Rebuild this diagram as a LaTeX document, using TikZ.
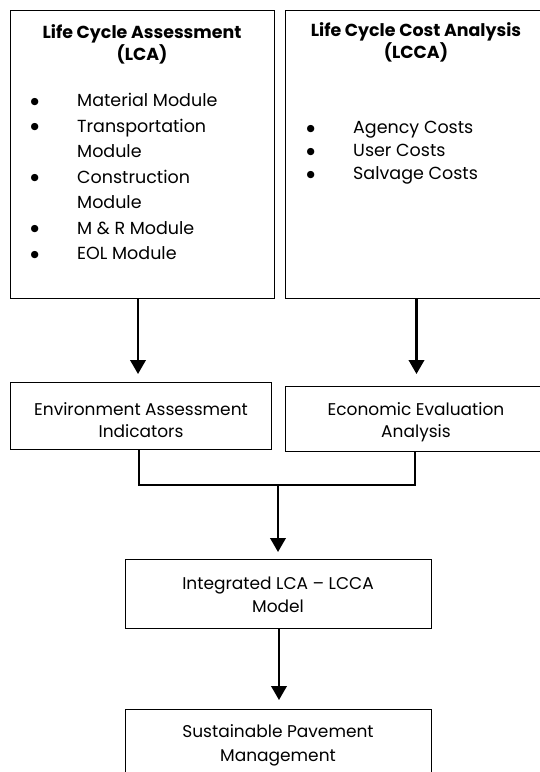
\documentclass[tikz,border=0pt]{standalone}
\usepackage{fontspec}
\setmainfont{Poppins}
\newfontfamily\bulletfont{DejaVu Sans}
\newcommand{\mybul}{\makebox[47pt][l]{\hspace*{0.5pt}\raisebox{2.5pt}{\bulletfont\fontsize{9.5}{10}\selectfont ●}}}
\usetikzlibrary{arrows.meta}
\begin{document}
\begin{tikzpicture}[x=1pt,y=-1pt,
  box/.style={draw=black,line width=1pt,inner sep=0pt},
  txt/.style={inner sep=0pt,align=center,font=\fontsize{17}{21.5}\selectfont},
  title/.style={inner sep=0pt,align=center,font=\fontsize{17.4}{22}\selectfont\bfseries},
  list/.style={inner sep=0pt,align=left,anchor=base west},
  arr/.style={line width=2.2pt,-{Triangle[width=15.5pt,length=14pt]}},
  link/.style={line width=1.8pt}]
\useasboundingbox (0,0) rectangle (540,772);
\path[fill=white] (0,0) rectangle (540,772);
% boxes
\node[box,minimum width=264,minimum height=288] (lca) at (142,154) {};
\node[box,minimum width=257,minimum height=288] (lcca) at (413.5,154) {};
\node[box,minimum width=261,minimum height=67] (env) at (140.5,415.5) {};
\node[box,minimum width=257,minimum height=65] (econ) at (413.5,418.5) {};
\node[box,minimum width=306,minimum height=69] (integ) at (278,593.5) {};
\node[box,minimum width=306,minimum height=91] (sust) at (278,754.5) {};
% titles
\node[title] (lcatitle) at (142,44) {Life Cycle Assessment\\(LCA)};
\node[title] (lccatitle) at (416,42) {Life Cycle Cost Analysis\\(LCCA)};
% lists (base anchor = baseline of last line)
\node[list,font=\fontsize{17.5}{25.5}\selectfont] (lcalist) at (30,259.5) {%
\mybul Material Module\\
\mybul Transportation\\
\hspace*{47pt}Module\\
\mybul Construction\\
\hspace*{47pt}Module\\
\mybul M \& R Module\\
\mybul EOL Module};
\node[list,font=\fontsize{17.5}{23}\selectfont] (lccalist) at (306,179.5) {%
\mybul Agency Costs\\
\mybul User Costs\\
\mybul Salvage Costs};
% box texts
\node[txt] (envtext) at (141,420) {Environment Assessment\\Indicators};
\node[txt] (econtext) at (416,422) {Economic Evaluation\\Analysis};
\node[txt,font=\fontsize{17}{23}\selectfont] (integtext) at (278,594.5) {Integrated LCA -- LCCA\\Model};
\node[txt,font=\fontsize{17}{24}\selectfont] (susttext) at (278,745) {Sustainable Pavement\\Management};
% connectors
\coordinate (a1) at (138,374);
\draw[arr] (lca.south -| a1) -- (a1);
\coordinate (a2) at (416.5,374);
\draw[arr] (lcca.south -| a2) -- (a2);
\coordinate (j1) at (139,485);
\coordinate (j2) at (415,485);
\coordinate (jm) at (278,485);
\draw[link] (env.south -| j1) -- (j1) -- (j2) -- (econ.south -| j2);
\coordinate (a3) at (278,552);
\draw[arr] (jm) -- (a3);
\coordinate (a4) at (279,700);
\draw[arr] (integ.south -| a4) -- (a4);
\end{tikzpicture}
\end{document}
